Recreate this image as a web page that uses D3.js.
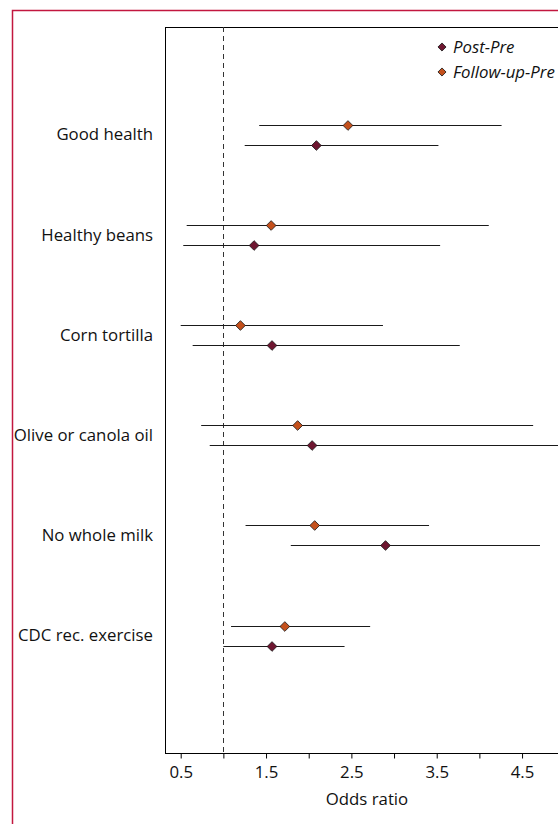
<!DOCTYPE html>
<html>
<head>
<meta charset="utf-8">
<script src="https://cdn.jsdelivr.net/npm/d3@7"></script>
<style>
  html, body { margin: 0; padding: 0; background: #fff; overflow: hidden; }
  svg { display: block; }
</style>
</head>
<body>
<svg id="chart" width="558" height="824"></svg>
<script>
// Outcomes, top to bottom
const categories = ["Good health", "Healthy beans", "Corn tortilla", "Olive or canola oil", "No whole milk", "CDC rec. exercise"];

// Odds ratios with 95% confidence limits
const postPre      = [2.09, 1.36, 1.57, 2.04, 2.90, 1.57];
const postPreLow   = [1.25, 0.53, 0.64, 0.84, 1.79, 1.00];
const postPreHigh  = [3.52, 3.54, 3.77, 5.30, 4.71, 2.42];

const followPre     = [2.46, 1.56, 1.20, 1.87, 2.07, 1.72];
const followPreLow  = [1.42, 0.57, 0.50, 0.74, 1.26, 1.09];
const followPreHigh = [4.26, 4.11, 2.87, 4.63, 3.41, 2.72];

const seriesNames = ["Post-Pre", "Follow-up-Pre"];
const tickValues = [0.5, 1.0, 1.5, 2.0, 2.5, 3.0, 3.5, 4.0, 4.5, 5.0];
const tickLabels = ["0.5", "", "1.5", "", "2.5", "", "3.5", "", "4.5", ""];
const referenceOR = 1.0;

const colors = { "Post-Pre": "#6e1630", "Follow-up-Pre": "#c4501c" };
const font = "'Open Sans', 'Noto Sans', sans-serif";
const fontSize = 16.8;

const svg = d3.select("#chart");

// Outer frame
svg.append("rect")
  .attr("x", 12.5).attr("y", 10.5)
  .attr("width", 600).attr("height", 900)
  .attr("fill", "none").attr("stroke", "#c2173f").attr("stroke-width", 1.5);

const plot = { left: 165, top: 27, right: 566, bottom: 753 };

const x = d3.scaleLinear().domain([0.316, 5.015]).range([plot.left, plot.right]);
const y = d3.scaleLinear().domain([0, categories.length - 1]).range([134.5, 635.5]);
const offset = 10;

// Plot box
svg.append("rect")
  .attr("x", plot.left + 0.5).attr("y", plot.top + 0.5)
  .attr("width", plot.right - plot.left + 20).attr("height", plot.bottom - plot.top)
  .attr("fill", "none").attr("stroke", "#000").attr("stroke-width", 1);

// Reference line at OR = 1
svg.append("line")
  .attr("x1", Math.round(x(referenceOR)) + 0.5).attr("x2", Math.round(x(referenceOR)) + 0.5)
  .attr("y1", plot.top).attr("y2", plot.bottom)
  .attr("stroke", "#333").attr("stroke-width", 1).attr("stroke-dasharray", "5,4");

// X axis
const xAxis = d3.axisBottom(x)
  .tickValues(tickValues)
  .tickSize(5)
  .tickPadding(8)
  .tickFormat((d, i) => tickLabels[i]);

const gx = svg.append("g")
  .attr("transform", `translate(0,${plot.bottom + 0.5})`)
  .call(xAxis);
gx.select(".domain").remove();
gx.selectAll(".tick line").attr("stroke", "#000");
gx.selectAll(".tick text")
  .attr("font-family", font).attr("font-size", fontSize).attr("fill", "#111");

svg.append("text")
  .attr("x", 367).attr("y", 805)
  .attr("text-anchor", "middle")
  .attr("font-family", font).attr("font-size", fontSize).attr("fill", "#111")
  .text("Odds ratio");

// Category labels
svg.append("g").selectAll("text")
  .data(categories)
  .join("text")
  .attr("x", 153)
  .attr("y", (d, i) => y(i))
  .attr("dy", "0.35em")
  .attr("text-anchor", "end")
  .attr("font-family", font).attr("font-size", fontSize).attr("fill", "#111")
  .text(d => d);

// Build series rows
const rows = [];
categories.forEach((c, i) => {
  rows.push({ series: "Follow-up-Pre", i, or: followPre[i], lo: followPreLow[i], hi: followPreHigh[i], dy: -offset });
  rows.push({ series: "Post-Pre", i, or: postPre[i], lo: postPreLow[i], hi: postPreHigh[i], dy: offset });
});

const diamond = d3.symbol().type(d3.symbolDiamond2).size(60);

const g = svg.append("g");
g.selectAll("line.ci")
  .data(rows)
  .join("line")
  .attr("class", "ci")
  .attr("x1", d => x(d.lo)).attr("x2", d => x(d.hi))
  .attr("y1", d => Math.round(y(d.i) + d.dy) + 0.5)
  .attr("y2", d => Math.round(y(d.i) + d.dy) + 0.5)
  .attr("stroke", "#1a1a1a").attr("stroke-width", 1.2);

g.selectAll("path.pt")
  .data(rows)
  .join("path")
  .attr("class", "pt")
  .attr("d", diamond)
  .attr("transform", d => `translate(${x(d.or)},${Math.round(y(d.i) + d.dy) + 0.5})`)
  .attr("fill", d => colors[d.series])
  .attr("stroke", "#111").attr("stroke-width", 0.8);

// Legend
const legend = svg.append("g");
seriesNames.forEach((s, k) => {
  const ly = 47 + k * 25;
  legend.append("path")
    .attr("d", d3.symbol().type(d3.symbolDiamond2).size(42))
    .attr("transform", `translate(442,${ly})`)
    .attr("fill", colors[s]).attr("stroke", "#111").attr("stroke-width", 0.8);
  legend.append("text")
    .attr("x", 453).attr("y", ly).attr("dy", "0.35em")
    .attr("font-family", font).attr("font-size", fontSize).attr("font-style", "italic")
    .attr("fill", "#111")
    .text(s);
});
</script>
</body>
</html>
